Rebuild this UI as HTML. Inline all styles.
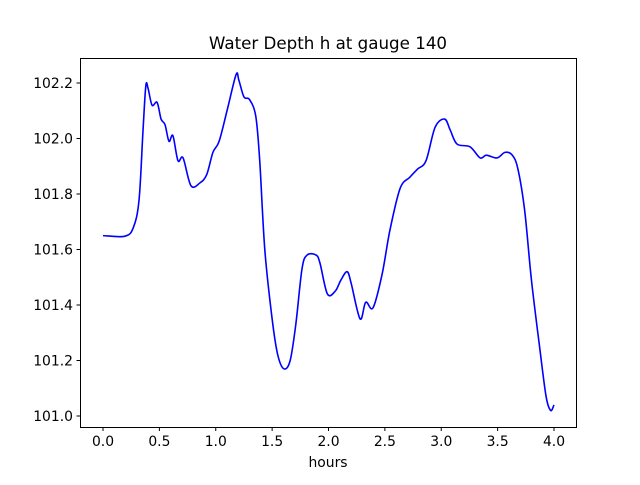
<!DOCTYPE html>
<html><head><meta charset="utf-8"><style>
body{margin:0;background:#fff;}
svg text{font-family:"DejaVu Sans","Liberation Sans",sans-serif;fill:#000;}
</style></head><body>
<svg id="chart" width="640" height="480" xmlns="http://www.w3.org/2000/svg">
<rect width="640" height="480" fill="#fff"/>
<text x="328" y="49" font-size="16.7" text-anchor="middle">Water Depth h at gauge 140</text>
<g id="xt"></g>
<g id="yt"></g>
<path id="line" fill="none" stroke="#0000ff" stroke-width="1.6"/>
<rect x="80.5" y="58.5" width="496" height="369" fill="none" stroke="#000" stroke-width="1"/>
<text x="328" y="467" font-size="13.9" text-anchor="middle">hours</text>
</svg>
<script>
const hours=[0,0.195,0.27,0.32,0.355,0.38,0.40,0.435,0.48,0.515,0.55,0.585,0.62,0.665,0.71,0.78,0.86,0.92,0.975,1.03,1.10,1.18,1.205,1.25,1.30,1.355,1.39,1.435,1.50,1.55,1.605,1.66,1.71,1.765,1.81,1.89,1.925,1.99,2.06,2.11,2.165,2.20,2.28,2.33,2.395,2.475,2.545,2.635,2.72,2.79,2.865,2.945,3.03,3.08,3.14,3.255,3.345,3.40,3.495,3.565,3.63,3.68,3.74,3.80,3.875,3.93,3.97,4.00];
const depth=[101.65,101.648,101.68,101.78,102.03,102.19,102.18,102.12,102.13,102.07,102.05,101.99,102.01,101.92,101.93,101.83,101.84,101.87,101.95,101.99,102.10,102.23,102.21,102.15,102.14,102.08,101.92,101.60,101.35,101.22,101.17,101.20,101.33,101.53,101.58,101.58,101.55,101.44,101.45,101.49,101.52,101.48,101.35,101.41,101.39,101.51,101.67,101.82,101.86,101.89,101.92,102.04,102.07,102.03,101.98,101.97,101.93,101.94,101.93,101.95,101.94,101.89,101.74,101.49,101.24,101.07,101.02,101.04];
const xTicks=["0.0","0.5","1.0","1.5","2.0","2.5","3.0","3.5","4.0"];
const yTicks=["101.0","101.2","101.4","101.6","101.8","102.0","102.2"];
const NS="http://www.w3.org/2000/svg";
function xs(v){return 103+v*112.75;}
function ys(v){return 416-(v-101.0)*277.5;}
const xt=document.getElementById('xt'),yt=document.getElementById('yt');
xTicks.forEach(t=>{const x=xs(parseFloat(t));
 const l=document.createElementNS(NS,'line');
 
 
 l.setAttribute('x1',x);l.setAttribute('x2',x);l.setAttribute('y1',427.5);l.setAttribute('y2',431);l.setAttribute('stroke','#000');xt.appendChild(l);
 const s=document.createElementNS(NS,'text');
 
 
 s.setAttribute('x',x);s.setAttribute('y',446);s.setAttribute('font-size','13.9');s.setAttribute('text-anchor','middle');s.textContent=t;xt.appendChild(s);});
yTicks.forEach(t=>{const y=ys(parseFloat(t));
 const l=document.createElementNS(NS,'line');
 
 
 l.setAttribute('x1',76.5);l.setAttribute('x2',80.5);l.setAttribute('y1',y);l.setAttribute('y2',y);l.setAttribute('stroke','#000');yt.appendChild(l);
 const s=document.createElementNS(NS,'text');
 
 
 s.setAttribute('x',73);s.setAttribute('y',y+5);s.setAttribute('font-size','13.9');s.setAttribute('text-anchor','end');s.textContent=t;yt.appendChild(s);});
const P=hours.map((h,i)=>[xs(h),ys(depth[i])]);
let d='M'+P[0][0]+','+P[0][1];
for(let i=0;i<P.length-1;i++){const p0=P[Math.max(0,i-1)],p1=P[i],p2=P[i+1],p3=P[Math.min(P.length-1,i+2)];
 const c1=[p1[0]+(p2[0]-p0[0])/6,p1[1]+(p2[1]-p0[1])/6],c2=[p2[0]-(p3[0]-p1[0])/6,p2[1]-(p3[1]-p1[1])/6];
 d+=` C${c1[0]},${c1[1]} ${c2[0]},${c2[1]} ${p2[0]},${p2[1]}`;}
document.getElementById('line').setAttribute('d',d);
</script>
</body></html>
